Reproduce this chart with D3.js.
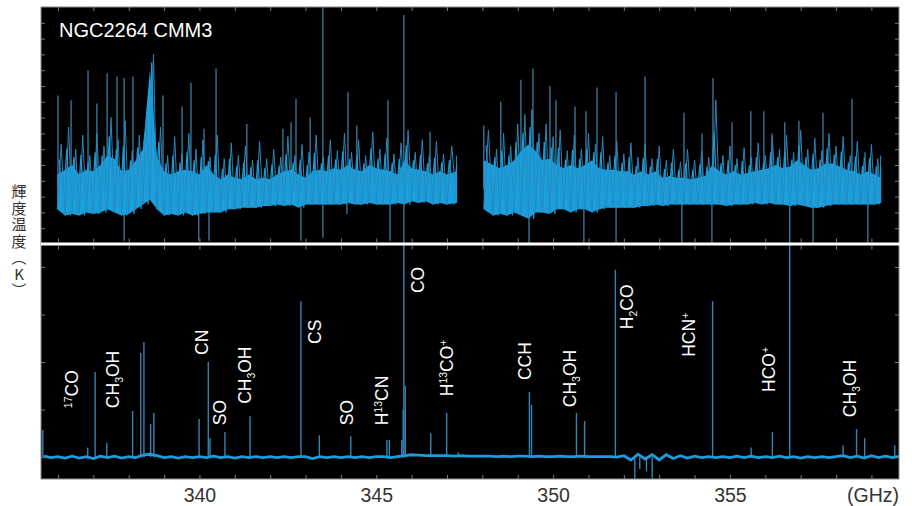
<!DOCTYPE html>
<html>
<head>
<meta charset="utf-8">
<script src="https://cdn.jsdelivr.net/npm/d3@7"></script>
<style>
  body { margin: 0; background: #fff; }
</style>
</head>
<body>
<script>
// ---- data ----
const xLabels = [340, 345, 350, 355]
const xTicks = [336, 337, 338, 339, 340, 341, 342, 343, 344, 345, 346, 347, 348, 349, 350, 351, 352, 353, 354, 355, 356, 357, 358, 359]
const topTicks = [1, 2, 3, 4, 5, 6, 7, 8, 9, 10, 11, 12, 13, 14]
const botTicks = [0, 10, 20, 30, 40]

// upper panel, left band (GHz), outer reach / dense top / dense bottom
const bandFreqA = [335.98, 336.2, 336.4, 336.6, 336.8, 337.0, 337.2, 337.4, 337.6, 337.8, 338.0, 338.2, 338.4, 338.6, 338.8, 339.0, 339.2, 339.4, 339.6, 339.8,
  340.0, 340.2, 340.4, 340.6, 340.8, 341.0, 341.2, 341.4, 341.6, 341.8, 342.0, 342.2, 342.4, 342.6, 342.8, 343.0, 343.2, 343.4, 343.6, 343.8,
  344.0, 344.2, 344.4, 344.6, 344.8, 345.0, 345.2, 345.4, 345.6, 345.8, 346.0, 346.2, 346.4, 346.6, 346.8, 347.0, 347.27]
const bandOuterA = [6.3, 7.4, 6.0, 6.9, 5.6, 7.0, 6.2, 8.0, 6.6, 7.8, 5.9, 6.9, 8.0, 12.0, 7.4, 5.6, 6.8, 5.7, 7.0, 6.0,
  6.6, 5.5, 6.9, 5.4, 6.4, 5.6, 6.2, 5.3, 6.5, 5.4, 6.0, 5.5, 6.8, 5.6, 6.3, 5.8, 6.9, 5.5, 6.6, 5.9,
  7.0, 5.8, 6.6, 5.6, 7.1, 6.0, 6.7, 5.7, 6.4, 7.2, 5.8, 6.6, 5.6, 6.5, 5.7, 6.2, 5.6]
const bandHiA = [4.4, 4.7, 5.0, 4.4, 4.7, 4.6, 5.0, 5.6, 5.4, 4.6, 4.7, 5.3, 6.0, 11.0, 5.5, 4.6, 4.4, 4.6, 4.7, 4.6,
  4.4, 5.0, 4.4, 4.1, 4.4, 4.2, 4.1, 4.4, 4.1, 4.2, 4.1, 4.4, 4.6, 4.7, 4.4, 4.2, 4.6, 4.7, 4.6, 4.8,
  4.7, 5.0, 4.7, 4.6, 5.0, 4.8, 4.7, 4.6, 4.4, 5.3, 4.8, 4.7, 4.6, 4.4, 4.6, 4.4, 4.6]
const bandLoA = [2.2, 1.8, 1.9, 1.8, 2.0, 1.9, 2.0, 2.2, 2.0, 1.8, 1.9, 2.2, 2.5, 2.8, 2.2, 1.8, 1.9, 1.8, 2.0, 1.8,
  1.9, 2.0, 2.0, 2.0, 2.2, 2.2, 2.3, 2.3, 2.3, 2.4, 2.4, 2.5, 2.4, 2.5, 2.3, 2.5, 2.5, 2.5, 2.5, 2.5,
  2.5, 2.6, 2.5, 2.5, 2.6, 2.5, 2.5, 2.5, 2.6, 2.5, 2.7, 2.6, 2.7, 2.5, 2.6, 2.5, 2.6]

// upper panel, right band
const bandFreqB = [348.04, 348.3, 348.5, 348.7, 348.9, 349.1, 349.3, 349.5, 349.7, 349.9, 350.1, 350.3, 350.5, 350.7, 350.9, 351.1, 351.3, 351.5, 351.7, 351.9,
  352.1, 352.3, 352.5, 352.7, 352.9, 353.1, 353.3, 353.5, 353.7, 353.9, 354.1, 354.3, 354.5, 354.7, 354.9, 355.1, 355.3, 355.5, 355.7, 355.9,
  356.1, 356.3, 356.5, 356.7, 356.9, 357.1, 357.3, 357.5, 357.7, 357.9, 358.1, 358.3, 358.5, 358.7, 358.9, 359.1, 359.26]
const bandOuterB = [7.2, 6.0, 7.0, 6.2, 7.6, 8.2, 8.5, 7.0, 7.6, 6.8, 7.2, 5.9, 6.9, 6.0, 7.0, 6.3, 6.8, 5.6, 6.5, 5.7,
  6.4, 5.5, 6.3, 5.4, 6.2, 5.3, 6.0, 5.2, 6.0, 5.3, 5.9, 5.5, 9.1, 5.6, 6.2, 5.4, 6.1, 5.5, 6.4, 5.6,
  6.8, 6.0, 6.9, 5.8, 7.2, 6.0, 6.7, 5.9, 7.0, 6.2, 6.8, 5.6, 6.5, 5.5, 6.3, 5.4, 5.6]
const bandHiB = [5.3, 5.0, 4.8, 5.0, 5.3, 5.9, 6.3, 5.9, 5.3, 5.4, 5.0, 4.8, 5.0, 4.8, 5.0, 5.3, 4.8, 4.7, 4.7, 4.6,
  4.6, 4.4, 4.6, 4.4, 4.6, 4.2, 4.3, 4.2, 4.2, 4.1, 4.2, 4.3, 5.0, 4.6, 4.4, 4.6, 4.4, 4.5, 4.6, 4.7,
  4.8, 5.0, 4.8, 4.9, 5.3, 5.0, 4.7, 4.8, 5.1, 5.1, 4.9, 4.7, 4.6, 4.4, 4.6, 4.4, 4.2]
const bandLoB = [2.2, 1.8, 1.9, 1.8, 2.0, 1.8, 1.6, 2.0, 2.0, 1.9, 2.2, 2.2, 2.0, 2.2, 2.2, 2.0, 2.2, 2.3, 2.3, 2.3,
  2.3, 2.3, 2.4, 2.4, 2.5, 2.4, 2.5, 2.5, 2.5, 2.5, 2.5, 2.5, 2.5, 2.5, 2.4, 2.5, 2.5, 2.5, 2.6, 2.5,
  2.6, 2.5, 2.5, 2.4, 2.5, 2.4, 2.3, 2.3, 2.4, 2.5, 2.5, 2.5, 2.5, 2.5, 2.5, 2.5, 2.6]

// upper panel single channels sticking out of the band
const topSpikeFreq = [336.0, 336.37, 336.85, 337.1, 337.39, 337.67, 337.87, 338.12, 338.97, 339.51, 339.76, 340.13, 340.47, 341.34, 342.36, 342.59, 342.73, 343.13, 343.49, 344.2, 344.45, 345.33, 345.78, 346.52,
  348.04, 348.52, 349.09, 349.43, 349.91, 350.08, 350.62, 350.93, 351.24, 351.78, 352.6, 353.7, 354.21, 354.52, 355.06, 355.59, 355.96, 356.19, 356.55, 356.95, 357.63, 358.45, 358.82]
const topSpikeVal = [9.4, 9.1, 11.0, 8.9, 10.8, 10.6, 10.5, 10.6, 9.4, 8.7, 10.2, 7.3, 11.1, 7.6, 7.3, 7.7, 9.2, 8.0, 15.2, 9.6, 7.5, 9.1, 14.5, 7.1,
  7.5, 9.0, 10.4, 11.1, 10.0, 9.1, 8.7, 8.4, 9.9, 9.6, 10.6, 8.3, 7.0, 10.5, 7.7, 8.4, 8.4, 7.0, 7.7, 7.8, 8.3, 9.2, 5.8]
const topDipFreq = [337.87, 339.98, 340.27, 342.87, 343.49, 344.17, 345.39, 345.78, 349.32, 350.87, 351.78, 353.64, 354.49, 356.69, 357.35, 358.9]
const topDipVal = [0.2, 0.2, 0.2, 0.2, 0.4, 1.9, 0.2, -0.2, -0.2, -0.2, -0.2, -0.2, -0.2, -0.2, -0.2, -0.2]

// lower panel baseline
const baseFreq = [335.6, 335.8, 336.0, 336.2, 336.4, 336.6, 336.8, 337.0, 337.2, 337.4, 337.6, 337.8, 338.0, 338.2, 338.4, 338.6, 338.8, 339.0, 339.2, 339.4, 339.6, 339.8,
  340.0, 340.2, 340.4, 340.6, 340.8, 341.0, 341.2, 341.4, 341.6, 341.8, 342.0, 342.2, 342.4, 342.6, 342.8, 343.0, 343.2, 343.4, 343.6, 343.8,
  344.0, 344.2, 344.4, 344.6, 344.8, 345.0, 345.2, 345.4, 345.6, 345.8, 346.0, 346.2, 346.4, 346.6, 346.8, 347.0, 347.2, 347.4, 347.6, 347.8,
  348.0, 348.2, 348.4, 348.6, 348.8, 349.0, 349.2, 349.4, 349.6, 349.8, 350.0, 350.2, 350.4, 350.6, 350.8, 351.0, 351.2, 351.4, 351.6, 351.8,
  352.0, 352.2, 352.4, 352.6, 352.8, 353.0, 353.2, 353.4, 353.6, 353.8, 354.0, 354.2, 354.4, 354.6, 354.8, 355.0, 355.2, 355.4, 355.6, 355.8,
  356.0, 356.2, 356.4, 356.6, 356.8, 357.0, 357.2, 357.4, 357.6, 357.8, 358.0, 358.2, 358.4, 358.6, 358.8, 359.0, 359.2, 359.4, 359.6, 359.8]
const baseVal = [0.2, -0.1, 0.1, -0.2, 0.2, -0.2, 0.1, -0.3, 0.2, -0.1, 0.2, -0.2, 0.1, -0.1, 0.4, 0.6, 0.3, -0.1, 0.1, -0.2, 0.1, -0.1,
  0.1, -0.1, 0.2, -0.1, 0.1, -0.2, 0.1, -0.1, 0.1, -0.1, 0.1, -0.1, 0.1, -0.1, 0.1, 0.1, -0.3, 0.1, -0.1, 0.1,
  -0.1, 0.1, -0.1, 0.1, -0.1, 0.1, 0.1, -0.1, 0.1, 0.3, 0.5, 0.4, 0.3, 0.3, 0.3, 0.3, 0.2, 0.3, 0.2, 0.2,
  0.2, 0.2, 0.1, 0.2, 0.1, 0.2, 0.2, 0.1, 0.2, 0.1, 0.1, 0.2, 0.1, 0.1, 0.2, 0.1, 0.1, 0.1, 0.1, 0.0,
  0.3, -0.6, 0.6, -0.4, 0.5, -0.6, 0.5, -0.3, 0.3, -0.2, 0.2, -0.1, 0.1, -0.1, 0.1, -0.1, 0.2, -0.1, 0.2, -0.1,
  0.1, -0.1, 0.2, -0.1, 0.1, -0.2, 0.1, -0.1, 0.1, -0.1, 0.1, 0.3, -0.1, 0.2, -0.2, 0.3, -0.1, 0.2, -0.1, 0.2]

// lower panel lines (absorption is negative)
const lineFreq = [335.57, 336.84, 337.05, 337.38, 338.11, 338.34, 338.43, 338.62, 338.71, 339.99, 340.25, 340.3, 340.72, 341.43, 342.87, 343.39, 344.28, 345.3, 345.37, 345.72, 345.76, 345.78, 345.82,
  346.54, 346.99, 347.32, 349.33, 349.39, 350.66, 350.89, 351.76, 352.31, 352.45, 352.64, 352.8, 354.51, 355.6, 356.2, 356.69, 358.2, 358.58, 358.81, 359.66]
const lineVal = [5.7, 2.0, 17.9, 3.0, 9.7, 21.9, 24.2, 7.0, 9.3, 8.0, 20.0, 4.0, 5.3, 8.6, 32.8, 4.6, 4.4, 3.6, 3.6, 3.6, 10.0, 60, 15.0,
  5.0, 9.3, 1.0, 13.7, 11.0, 9.3, 7.6, 39.4, -5.0, -2.5, -3.0, -4.8, 32.8, 2.0, 5.3, 60, 2.5, 5.9, 4.0, 2.5]

// molecule names, where they sit (GHz, lower-panel units)
const labelText = ['^17CO', 'CH_3OH', 'CN', 'SO', 'CH_3OH', 'CS', 'SO', 'H^13CN', 'CO', 'H^13CO^+', 'CCH', 'CH_3OH', 'H_2CO', 'HCN^+', 'HCO^+', 'CH_3OH']
const labelFreq = [336.4, 337.56, 340.07, 340.58, 341.29, 343.27, 344.17, 345.16, 346.18, 347.0, 349.2, 350.48, 352.09, 353.84, 356.1, 358.39]
const labelBase = [10.3, 10.3, 21.5, 6.7, 11.2, 23.8, 6.7, 6.7, 34.5, 12.8, 16.2, 10.5, 26.9, 21.1, 13.7, 8.4]

// vertical axis title
const yTitle = '輝度温度'
const yUnit = 'K'

// ---- frame ----
const W = 912, H = 506
const plot = { left: 41, right: 899, top: 7, mid: 244, bottom: 479 }

const svg = d3.select('body').append('svg')
  .attr('width', W)
  .attr('height', H)
  .attr('font-family', '"Liberation Sans", Arial, sans-serif')

const x = d3.scaleLinear().domain([335.52, 359.78]).range([plot.left, plot.right])
const yTop = d3.scaleLinear().domain([0, 15]).range([plot.mid, plot.top])
const yBot = d3.scaleLinear().domain([-4.6, 44.4]).range([plot.bottom, 246])

svg.append('rect')
  .attr('x', plot.left)
  .attr('y', plot.top)
  .attr('width', plot.right - plot.left)
  .attr('height', plot.bottom - plot.top)
  .attr('fill', '#000')
  .attr('stroke', '#8a8a8a')
  .attr('stroke-width', 1)

const defs = svg.append('defs')
defs.append('clipPath').attr('id', 'clipTop')
  .append('rect')
  .attr('x', plot.left).attr('y', plot.top)
  .attr('width', plot.right - plot.left).attr('height', plot.mid - plot.top - 1)
defs.append('clipPath').attr('id', 'clipBot')
  .append('rect')
  .attr('x', plot.left).attr('y', plot.mid + 1)
  .attr('width', plot.right - plot.left).attr('height', plot.bottom - plot.mid - 1)

// ---- upper panel ----
const gTop = svg.append('g').attr('clip-path', 'url(#clipTop)')

const topSpikes = topSpikeFreq.map((f, i) => ({ f: f, v: topSpikeVal[i] }))
const topDips = topDipFreq.map((f, i) => ({ f: f, v: topDipVal[i] }))

gTop.selectAll('.tspike')
  .data(topSpikes)
  .enter().append('line')
  .attr('class', 'tspike')
  .attr('x1', d => x(d.f)).attr('x2', d => x(d.f))
  .attr('y1', yTop(3.5)).attr('y2', d => yTop(d.v))
  .attr('stroke', '#3a7ea5')
  .attr('stroke-width', 1.3)

gTop.selectAll('.tdip')
  .data(topDips)
  .enter().append('line')
  .attr('class', 'tdip')
  .attr('x1', d => x(d.f)).attr('x2', d => x(d.f))
  .attr('y1', yTop(2.6)).attr('y2', d => yTop(d.v))
  .attr('stroke', '#3a7ea5')
  .attr('stroke-width', 1.3)

// each bin drawn min-to-max like a decimated spectrum
function drawBand(freq, outer, hi, lo) {
  const rows = freq.map((f, i) => ({ f: f, outer: outer[i], hi: hi[i], lo: lo[i] }))
  const zig = []
  rows.forEach((d, i) => {
    const next = i < rows.length - 1 ? rows[i + 1].f : d.f
    zig.push({ f: d.f, v: d.lo })
    zig.push({ f: (d.f + next) / 2, v: d.outer })
  })
  const zig2 = []
  rows.forEach((d, i) => {
    const next = i < rows.length - 1 ? rows[i + 1].f : d.f
    zig2.push({ f: d.f + (next - d.f) * 0.25, v: d.hi + (d.outer - d.hi) * 0.5 })
    zig2.push({ f: d.f + (next - d.f) * 0.75, v: d.lo })
  })
  gTop.append('path')
    .datum(rows)
    .attr('fill', '#1aa0de')
    .attr('d', d3.area().x(d => x(d.f)).y0(d => yTop(d.lo)).y1(d => yTop(d.hi)))
  gTop.append('path')
    .datum(zig)
    .attr('fill', 'none')
    .attr('stroke', '#2a87bb')
    .attr('stroke-width', 1)
    .attr('d', d3.line().x(d => x(d.f)).y(d => yTop(d.v)))
  gTop.append('path')
    .datum(zig2)
    .attr('fill', 'none')
    .attr('stroke', '#1d9ad4')
    .attr('stroke-width', 1.2)
    .attr('d', d3.line().x(d => x(d.f)).y(d => yTop(d.v)))
}

drawBand(bandFreqA, bandOuterA, bandHiA, bandLoA)
drawBand(bandFreqB, bandOuterB, bandHiB, bandLoB)

// ---- lower panel ----
const gBot = svg.append('g').attr('clip-path', 'url(#clipBot)')
const lines = lineFreq.map((f, i) => ({ f: f, v: lineVal[i] }))

gBot.selectAll('.bline')
  .data(lines)
  .enter().append('line')
  .attr('class', 'bline')
  .attr('x1', d => x(d.f)).attr('x2', d => x(d.f))
  .attr('y1', yBot(0)).attr('y2', d => yBot(d.v))
  .attr('stroke', '#3484b3')
  .attr('stroke-width', 1.4)

const base = baseFreq.map((f, i) => ({ f: f, v: baseVal[i] }))
gBot.append('path')
  .datum(base)
  .attr('fill', 'none')
  .attr('stroke', '#1c9ddb')
  .attr('stroke-width', 2.8)
  .attr('d', d3.line().x(d => x(d.f)).y(d => yBot(d.v)))

// white divider
svg.append('rect')
  .attr('x', plot.left).attr('y', plot.mid - 1.5)
  .attr('width', plot.right - plot.left + 1).attr('height', 3)
  .attr('fill', '#fff')

// ---- ticks ----
function tickStyle(g) {
  g.select('.domain').remove()
  g.selectAll('line').attr('stroke', '#7a7a7a')
  g.selectAll('text').remove()
}
svg.append('g').attr('transform', `translate(0,${plot.bottom})`)
  .call(d3.axisTop(x).tickValues(xTicks).tickSize(4)).call(tickStyle)
svg.append('g').attr('transform', `translate(0,${plot.top})`)
  .call(d3.axisBottom(x).tickValues(xTicks).tickSize(4)).call(tickStyle)
svg.append('g').attr('transform', `translate(0,${plot.mid - 1.5})`)
  .call(d3.axisTop(x).tickValues(xTicks).tickSize(4)).call(tickStyle)
svg.append('g').attr('transform', `translate(0,${plot.mid + 1.5})`)
  .call(d3.axisBottom(x).tickValues(xTicks).tickSize(4)).call(tickStyle)
svg.append('g').attr('transform', `translate(${plot.left},0)`)
  .call(d3.axisRight(yTop).tickValues(topTicks).tickSize(4)).call(tickStyle)
svg.append('g').attr('transform', `translate(${plot.right},0)`)
  .call(d3.axisLeft(yTop).tickValues(topTicks).tickSize(4)).call(tickStyle)
svg.append('g').attr('transform', `translate(${plot.left},0)`)
  .call(d3.axisRight(yBot).tickValues(botTicks).tickSize(4)).call(tickStyle)
svg.append('g').attr('transform', `translate(${plot.right},0)`)
  .call(d3.axisLeft(yBot).tickValues(botTicks).tickSize(4)).call(tickStyle)

// x labels
const xAxis = svg.append('g')
  .attr('transform', `translate(0,${plot.bottom})`)
  .call(d3.axisBottom(x).tickValues(xLabels).tickSize(0).tickPadding(9).tickFormat(d3.format('d')))
xAxis.select('.domain').remove()
xAxis.selectAll('text')
  .attr('font-size', 19.5)
  .attr('font-family', '"Liberation Sans", Arial, sans-serif')
  .attr('fill', '#333')

svg.append('text')
  .attr('x', plot.right)
  .attr('y', 502)
  .attr('text-anchor', 'end')
  .attr('font-size', 19.5)
  .attr('fill', '#333')
  .text('(GHz)')

// y title set in vertical type, one text element
const yt = svg.append('text')
  .attr('x', 19)
  .attr('y', 184)
  .attr('font-size', 15)
  .attr('fill', '#333')
  .style('font-family', '"Noto Sans CJK JP", sans-serif')
  .style('writing-mode', 'vertical-rl')
  .style('letter-spacing', '1.5px')
yt.append('tspan').text(yTitle + '（')
yt.append('tspan').style('text-orientation', 'upright').text(yUnit)
yt.append('tspan').text('）')

// title
svg.append('text')
  .attr('x', 59)
  .attr('y', 37)
  .attr('font-size', 20)
  .attr('fill', '#fff')
  .text('NGC2264 CMM3')

// molecule labels, rotated
const fs = 17.5
labelText.forEach((s, i) => {
  const t = svg.append('text')
    .attr('transform', `translate(${x(labelFreq[i]) + fs * 0.36},${yBot(labelBase[i])}) rotate(-90)`)
    .attr('font-size', fs)
    .attr('fill', '#fff')
  let shift = 0
  const re = /([_^])([0-9+]+)|([^_^]+)/g
  let m
  while ((m = re.exec(s)) !== null) {
    if (m[3]) {
      t.append('tspan').attr('dy', -shift).text(m[3])
      shift = 0
    } else {
      const off = m[1] === '^' ? -6.5 : 4
      t.append('tspan').attr('dy', off - shift).attr('font-size', fs * 0.6).text(m[2])
      shift = off
    }
  }
})
</script>
</body>
</html>
